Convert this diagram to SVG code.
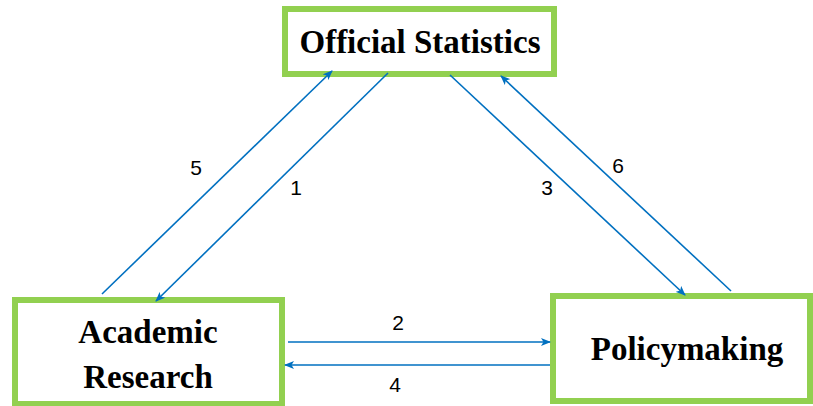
<svg xmlns="http://www.w3.org/2000/svg" width="813" height="406" viewBox="0 0 813 406">
<style>
.box{fill:#ffffff;stroke:#92D050;stroke-width:6}
.title{font-family:"Liberation Serif","Times New Roman",serif;font-weight:bold;font-size:33px;fill:#000;text-anchor:middle}
.conn{stroke:#0070C0;stroke-width:1.6;fill:none;marker-end:url(#ah)}
.lbl{font-family:"Liberation Sans",Arial,sans-serif;font-size:21px;fill:#000;text-anchor:middle}
</style>
<defs>
<marker id="ah" markerWidth="10" markerHeight="8" refX="9" refY="4" orient="auto" markerUnits="userSpaceOnUse">
<path d="M0,0 L10,4 L0,8 L2.5,4 Z" fill="#0070C0"/>
</marker>
</defs>
<rect width="813" height="406" fill="#ffffff"/>
<g id="official-statistics">
<rect class="box" x="285" y="9" width="269" height="65"/>
<text class="title" x="420" y="53">Official Statistics</text>
</g>
<g id="academic-research">
<rect class="box" x="15" y="300" width="267" height="104"/>
<text class="title" x="148" y="343">Academic</text>
<text class="title" x="148" y="388">Research</text>
</g>
<g id="policymaking">
<rect class="box" x="553" y="296" width="257" height="105"/>
<text class="title" x="687" y="360">Policymaking</text>
</g>
<g id="connectors">
<line class="conn" x1="102" y1="294" x2="332" y2="71"/>
<line class="conn" x1="388" y1="73" x2="156" y2="301"/>
<line class="conn" x1="450" y1="75" x2="685" y2="295"/>
<line class="conn" x1="731" y1="291" x2="501" y2="76"/>
<line class="conn" x1="288" y1="342" x2="550" y2="342"/>
<line class="conn" x1="550" y1="365" x2="285" y2="365"/>
</g>
<g id="labels">
<text class="lbl" x="196" y="175">5</text>
<text class="lbl" x="296" y="195">1</text>
<text class="lbl" x="547" y="195">3</text>
<text class="lbl" x="618" y="173">6</text>
<text class="lbl" x="398" y="330">2</text>
<text class="lbl" x="395" y="392">4</text>
</g>
</svg>
